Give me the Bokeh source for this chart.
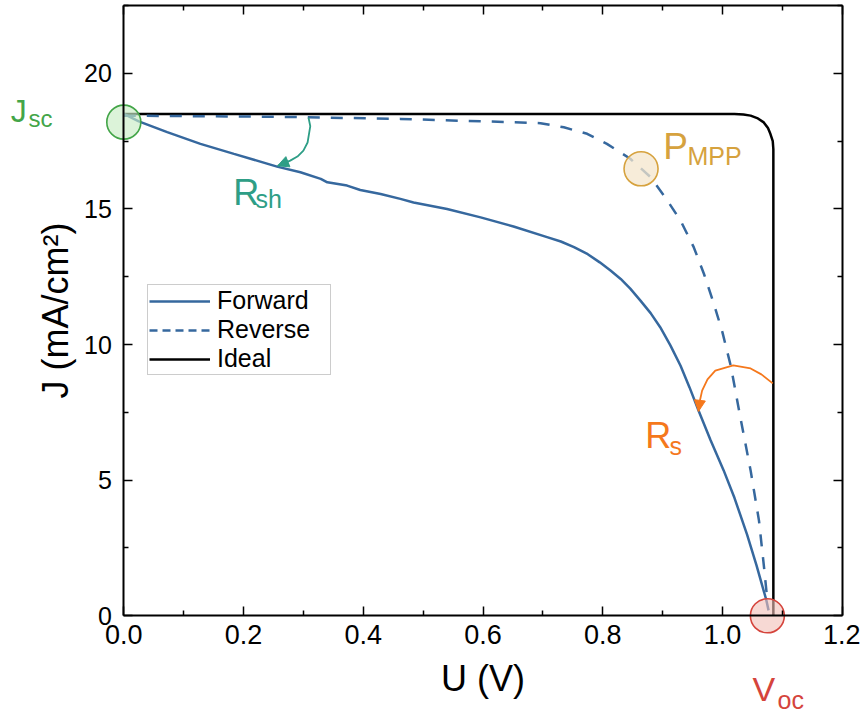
from bokeh.plotting import figure
from bokeh.models import (Range1d, LinearAxis, FixedTicker, Legend, LegendItem,
                          Label, Arrow, NormalHead)
from bokeh.embed import file_html
from bokeh.resources import INLINE

# ---------------- data ----------------
u_forward = [0.000, 0.025, 0.0725, 0.128, 0.184, 0.256, 0.295, 0.329, 0.340, 0.373,
             0.395, 0.429, 0.462, 0.484, 0.540, 0.596, 0.651, 0.707, 0.730, 0.752,
             0.775, 0.795, 0.813, 0.830, 0.846, 0.863, 0.880, 0.896, 0.913, 0.930,
             0.945, 0.960, 0.980, 1.002, 1.020, 1.041, 1.057, 1.073, 1.077]
j_forward = [18.50, 18.23, 17.83, 17.40, 17.03, 16.56, 16.35, 16.11, 15.98, 15.86,
             15.70, 15.55, 15.37, 15.24, 15.00, 14.69, 14.35, 13.96, 13.80, 13.59,
             13.33, 13.03, 12.73, 12.42, 12.06, 11.62, 11.16, 10.64, 9.97, 9.22,
             8.42, 7.57, 6.48, 5.36, 4.35, 3.00, 1.85, 0.60, 0.20]

u_reverse = [0.000, 0.250, 0.462, 0.596, 0.663, 0.696, 0.735, 0.774, 0.807, 0.846,
             0.880, 0.908, 0.930, 0.952, 0.969, 0.985, 1.000, 1.014, 1.030, 1.047,
             1.061, 1.070, 1.075]
j_reverse = [18.44, 18.40, 18.32, 18.23, 18.19, 18.16, 18.01, 17.77, 17.40, 16.85,
             16.17, 15.31, 14.57, 13.59, 12.61, 11.55, 10.45, 9.20, 7.30, 5.36,
             3.51, 1.67, 0.56]

u_ideal = [0.000, 1.020, 1.035, 1.047, 1.058, 1.069, 1.076, 1.080, 1.084, 1.085, 1.085]
j_ideal = [18.50, 18.50, 18.48, 18.44, 18.35, 18.19, 17.98, 17.77, 17.50, 17.20, 0.00]

x_ticks = [0.0, 0.2, 0.4, 0.6, 0.8, 1.0, 1.2]
x_tick_labels = ["0.0", "0.2", "0.4", "0.6", "0.8", "1.0", "1.2"]
x_minor = [0.1, 0.3, 0.5, 0.7, 0.9, 1.1]
y_ticks = [0, 5, 10, 15, 20]
y_tick_labels = ["0", "5", "10", "15", "20"]
y_minor = [2.5, 7.5, 12.5, 17.5, 22.5]
x_bounds = (0.0, 1.2)
y_bounds = (0.0, 22.5)

# key points
jsc_u, jsc_j = [0.0], [18.2]
mpp_u, mpp_j = [0.864], [16.48]
voc_u, voc_j = [1.075], [0.0]

# curved annotation arrows
rsh_arrow_u = [0.3085, 0.3115, 0.307, 0.300, 0.290, 0.278, 0.265, 0.257]
rsh_arrow_j = [18.37, 18.05, 17.45, 17.15, 16.93, 16.78, 16.66, 16.59]
rs_arrow_u = [1.084, 1.065, 1.047, 1.018, 0.988, 0.975, 0.966, 0.962, 0.960]
rs_arrow_j = [8.57, 8.90, 9.12, 9.23, 9.04, 8.72, 8.30, 7.90, 7.54]

# ---------------- layout / styles ----------------
W, H = 860, 714
X0_PX, X1_PX = 123.3, 841.7   # pixel columns of U = 0 and U = 1.2
Y0_PX, Y1_PX = 615.3, 5.0     # pixel rows of J = 0 and J = 22.5
sx = (X1_PX - X0_PX) / (x_bounds[1] - x_bounds[0])
sy = (Y0_PX - Y1_PX) / (y_bounds[1] - y_bounds[0])
x_range = Range1d(x_bounds[0] - X0_PX / sx, x_bounds[1] + (W - X1_PX) / sx)
y_range = Range1d(y_bounds[0] - (H - Y0_PX) / sy, y_bounds[1] + Y1_PX / sy)

FONT = "Liberation Sans"
BLUE = "#36689e"
GREEN = "#43a548"
TEAL = "#2e9e86"
GOLD = "#d6a23e"
ORANGE = "#f5781c"
RED = "#d5443c"

p = figure(width=W, height=H, x_range=x_range, y_range=y_range,
           output_backend="svg", toolbar_location=None, min_border=0,
           x_axis_location=None, y_axis_location=None)
p.grid.visible = False
p.outline_line_color = None
p.background_fill_color = "white"
p.border_fill_color = "white"


def make_axis(kind, loc, labels):
    ax = LinearAxis(fixed_location=loc)
    if kind == "x":
        ax.ticker = FixedTicker(ticks=x_ticks, minor_ticks=x_minor)
        ax.major_label_overrides = {t: l for t, l in zip(x_ticks, x_tick_labels)}
        ax.bounds = x_bounds
    else:
        ax.ticker = FixedTicker(ticks=y_ticks, minor_ticks=y_minor)
        ax.major_label_overrides = {t: l for t, l in zip(y_ticks, y_tick_labels)}
        ax.bounds = y_bounds
    ax.axis_line_width = 2
    ax.axis_line_color = "black"
    ax.major_tick_in = 9
    ax.major_tick_out = 0
    ax.minor_tick_in = 5
    ax.minor_tick_out = 0
    ax.major_tick_line_width = 1.5
    ax.minor_tick_line_width = 1.5
    ax.major_label_text_font = FONT
    ax.axis_label_text_font = FONT
    ax.axis_label_text_font_style = "normal"
    ax.axis_label_text_color = "black"
    ax.major_label_text_color = "black"
    if not labels:
        ax.major_label_text_font_size = "0px"
        ax.major_label_standoff = 0
    return ax


xb = make_axis("x", y_bounds[0], True)
xb.axis_label = "U (V)"
xb.axis_label_text_font_size = "36px"
xb.major_label_text_font_size = "27px"
xb.major_label_standoff = 9
xb.axis_label_standoff = 11
p.add_layout(xb, "below")

yl = make_axis("y", x_bounds[0], True)
yl.axis_label = "J (mA/cm\u00b2)"
yl.axis_label_text_font_size = "36px"
yl.major_label_text_font_size = "25px"
yl.major_label_standoff = 12
yl.axis_label_standoff = 5
p.add_layout(yl, "left")

p.add_layout(make_axis("x", y_bounds[1], False), "above")
p.add_layout(make_axis("y", x_bounds[1], False), "right")

# curves
p.line(u_ideal, j_ideal, line_color="black", line_width=2.5)
p.line(u_reverse, j_reverse, line_color=BLUE, line_width=2.5, line_dash="12 11")
p.line(u_forward, j_forward, line_color=BLUE, line_width=2.5)

# legend-only renderers (legend uses a finer dash)
nan = float("nan")
lf = p.line([nan], [nan], line_color=BLUE, line_width=2.5)
lr = p.line([nan], [nan], line_color=BLUE, line_width=2.5, line_dash="8 5")
li = p.line([nan], [nan], line_color="black", line_width=2.5)
legend = Legend(items=[LegendItem(label="Forward", renderers=[lf]),
                       LegendItem(label="Reverse", renderers=[lr]),
                       LegendItem(label="Ideal", renderers=[li])],
                location=(147, H - 375), orientation="vertical",
                glyph_width=61, glyph_height=28, label_height=28, label_width=112,
                label_standoff=7, spacing=0, padding=1, margin=0,
                label_text_font=FONT, label_text_font_size="25px",
                label_text_color="black",
                border_line_color="#9a9a9a", border_line_width=1,
                background_fill_color="white", background_fill_alpha=1)
p.add_layout(legend, "center")

# arrows
p.line(rsh_arrow_u, rsh_arrow_j, line_color=TEAL, line_width=1.8)
p.add_layout(Arrow(end=NormalHead(size=11, fill_color=TEAL, line_color=TEAL, line_width=1),
                   x_start=rsh_arrow_u[-2], y_start=rsh_arrow_j[-2],
                   x_end=rsh_arrow_u[-1], y_end=rsh_arrow_j[-1],
                   line_color=TEAL, line_width=1.8))
p.line(rs_arrow_u, rs_arrow_j, line_color=ORANGE, line_width=1.8)
p.add_layout(Arrow(end=NormalHead(size=11, fill_color=ORANGE, line_color=ORANGE, line_width=1),
                   x_start=rs_arrow_u[-2], y_start=rs_arrow_j[-2],
                   x_end=rs_arrow_u[-1], y_end=rs_arrow_j[-1],
                   line_color=ORANGE, line_width=1.8))

# circles
p.scatter(jsc_u, jsc_j, marker="circle", size=34, fill_color="#c9ecc4", fill_alpha=0.65,
          line_color=GREEN, line_width=1.6)
p.scatter(mpp_u, mpp_j, marker="circle", size=34, fill_color="#f4e6cc", fill_alpha=0.75,
          line_color=GOLD, line_width=1.6)
p.scatter(voc_u, voc_j, marker="circle", size=34, fill_color="#f2bfb8", fill_alpha=0.6,
          line_color=RED, line_width=1.6)

# annotation texts (main letter + subscript): text, U, J of baseline, size, colour
ann = [
    ("J", -0.189, 18.11, 32, GREEN), ("sc", -0.159, 17.89, 24, GREEN),
    ("R", 0.183, 15.09, 36, TEAL), ("sh", 0.220, 14.94, 25, TEAL),
    ("P", 0.901, 16.78, 37, GOLD), ("MPP", 0.9415, 16.52, 25, GOLD),
    ("R", 0.871, 6.13, 36, ORANGE), ("s", 0.9115, 5.83, 25, ORANGE),
    ("V", 1.050, -3.20, 34, RED), ("oc", 1.092, -3.53, 25, RED),
]
for txt, ux, jy, fs, col in ann:
    # compensate the renderer's baseline placement so the ink sits on the baseline
    p.add_layout(Label(x=ux, y=jy, text=txt, text_font=FONT,
                       text_font_size=f"{fs}px", text_color=col,
                       text_align="left", text_baseline="alphabetic",
                       y_offset=7 + 0.2 * fs))

open("out.html", "w").write(file_html(p, INLINE))
